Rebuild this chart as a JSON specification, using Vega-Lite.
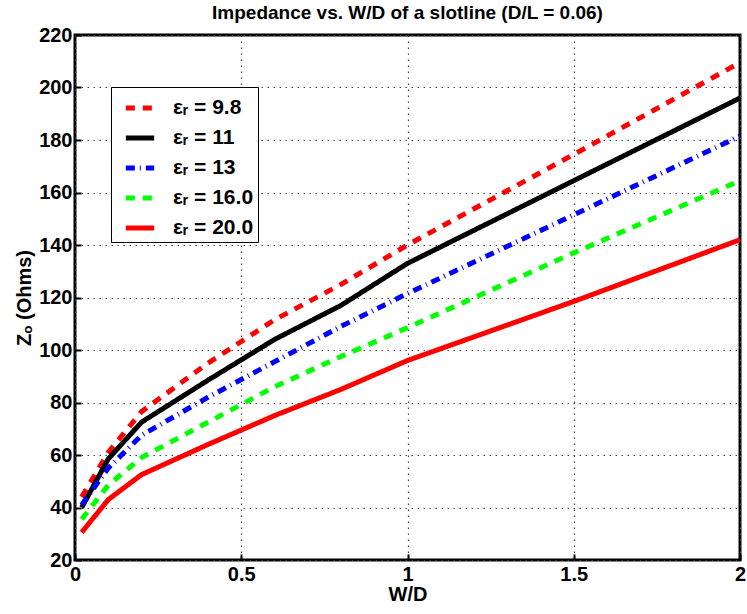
{
  "$schema": "https://vega.github.io/schema/vega-lite/v6.json",
  "width": 665,
  "height": 525,
  "autosize": {"type": "none"},
  "padding": {"left": 75, "top": 35, "right": 7, "bottom": 54},
  "background": "white",
  "title": {
    "text": "Impedance vs. W/D of a slotline (D/L = 0.06)",
    "font": "Liberation Sans",
    "fontSize": 19,
    "fontWeight": "bold",
    "color": "black",
    "anchor": "middle",
    "offset": 2
  },
  "config": {
    "view": {"stroke": "black", "strokeWidth": 3},
    "axis": {
      "labelFont": "Liberation Sans",
      "titleFont": "Liberation Sans",
      "labelFontSize": 20,
      "labelFontWeight": "bold",
      "titleFontSize": 20,
      "titleFontWeight": "bold",
      "labelColor": "black",
      "titleColor": "black",
      "labelFlush": false,
      "domain": false,
      "tickColor": "black",
      "tickWidth": 2,
      "grid": true,
      "gridColor": "#444444",
      "gridDash": [1.5, 4.5],
      "gridWidth": 1.2
    }
  },
  "data": {
    "values": [
      {"wd": 0.02, "z": 44, "s": "εᵣ = 9.8"},
      {"wd": 0.1, "z": 61, "s": "εᵣ = 9.8"},
      {"wd": 0.2, "z": 76.5, "s": "εᵣ = 9.8"},
      {"wd": 0.4, "z": 95, "s": "εᵣ = 9.8"},
      {"wd": 0.6, "z": 111.5, "s": "εᵣ = 9.8"},
      {"wd": 0.8, "z": 125, "s": "εᵣ = 9.8"},
      {"wd": 1.0, "z": 140, "s": "εᵣ = 9.8"},
      {"wd": 1.5, "z": 174.5, "s": "εᵣ = 9.8"},
      {"wd": 2.0, "z": 209.5, "s": "εᵣ = 9.8"},
      {"wd": 0.02, "z": 40, "s": "εᵣ = 11"},
      {"wd": 0.1, "z": 58.5, "s": "εᵣ = 11"},
      {"wd": 0.2, "z": 72.5, "s": "εᵣ = 11"},
      {"wd": 0.4, "z": 88.5, "s": "εᵣ = 11"},
      {"wd": 0.6, "z": 104, "s": "εᵣ = 11"},
      {"wd": 0.8, "z": 117, "s": "εᵣ = 11"},
      {"wd": 1.0, "z": 133, "s": "εᵣ = 11"},
      {"wd": 1.5, "z": 164.5, "s": "εᵣ = 11"},
      {"wd": 2.0, "z": 196, "s": "εᵣ = 11"},
      {"wd": 0.02, "z": 41, "s": "εᵣ = 13"},
      {"wd": 0.1, "z": 55, "s": "εᵣ = 13"},
      {"wd": 0.2, "z": 67.5, "s": "εᵣ = 13"},
      {"wd": 0.4, "z": 82, "s": "εᵣ = 13"},
      {"wd": 0.6, "z": 95.5, "s": "εᵣ = 13"},
      {"wd": 0.8, "z": 109, "s": "εᵣ = 13"},
      {"wd": 1.0, "z": 121.5, "s": "εᵣ = 13"},
      {"wd": 1.5, "z": 151.5, "s": "εᵣ = 13"},
      {"wd": 2.0, "z": 181.5, "s": "εᵣ = 13"},
      {"wd": 0.02, "z": 35.5, "s": "εᵣ = 16.0"},
      {"wd": 0.1, "z": 48.5, "s": "εᵣ = 16.0"},
      {"wd": 0.2, "z": 59, "s": "εᵣ = 16.0"},
      {"wd": 0.4, "z": 72.5, "s": "εᵣ = 16.0"},
      {"wd": 0.6, "z": 86, "s": "εᵣ = 16.0"},
      {"wd": 0.8, "z": 97.5, "s": "εᵣ = 16.0"},
      {"wd": 1.0, "z": 108.5, "s": "εᵣ = 16.0"},
      {"wd": 1.5, "z": 137, "s": "εᵣ = 16.0"},
      {"wd": 2.0, "z": 164.5, "s": "εᵣ = 16.0"},
      {"wd": 0.02, "z": 30.5, "s": "εᵣ = 20.0"},
      {"wd": 0.1, "z": 43, "s": "εᵣ = 20.0"},
      {"wd": 0.2, "z": 52.5, "s": "εᵣ = 20.0"},
      {"wd": 0.4, "z": 64, "s": "εᵣ = 20.0"},
      {"wd": 0.6, "z": 75, "s": "εᵣ = 20.0"},
      {"wd": 0.8, "z": 85, "s": "εᵣ = 20.0"},
      {"wd": 1.0, "z": 96, "s": "εᵣ = 20.0"},
      {"wd": 1.5, "z": 118.5, "s": "εᵣ = 20.0"},
      {"wd": 2.0, "z": 142, "s": "εᵣ = 20.0"}
    ]
  },
  "mark": {"type": "line", "strokeWidth": 5, "clip": true},
  "encoding": {
    "x": {
      "field": "wd",
      "type": "quantitative",
      "scale": {"domain": [0, 2], "nice": false},
      "axis": {
        "title": "W/D",
        "values": [0, 0.5, 1, 1.5, 2],
        "format": "~g",
        "tickSize": -6,
        "labelPadding": 10,
        "titlePadding": 0
      }
    },
    "y": {
      "field": "z",
      "type": "quantitative",
      "scale": {"domain": [20, 220], "nice": false, "zero": false},
      "axis": {
        "title": "Zₒ (Ohms)",
        "values": [20, 40, 60, 80, 100, 120, 140, 160, 180, 200, 220],
        "tickSize": -6,
        "labelPadding": 9,
        "titlePadding": 4
      }
    },
    "color": {
      "field": "s",
      "type": "nominal",
      "scale": {
        "domain": ["εᵣ = 9.8", "εᵣ = 11", "εᵣ = 13", "εᵣ = 16.0", "εᵣ = 20.0"],
        "range": ["#ff0000", "#000000", "#0000ff", "#00ff00", "#ff0000"]
      },
      "legend": {
        "title": null,
        "orient": "none",
        "legendX": 36,
        "legendY": 52,
        "direction": "vertical",
        "strokeColor": "black",
        "fillColor": "white",
        "padding": 4,
        "symbolOffset": 8,
        "symbolType": "stroke",
        "symbolSize": 800,
        "symbolStrokeWidth": 5,
        "labelFont": "Liberation Sans",
        "labelFontSize": 21,
        "labelFontWeight": "bold",
        "labelColor": "black",
        "rowPadding": 3,
        "labelOffset": 16
      }
    },
    "strokeDash": {
      "field": "s",
      "type": "nominal",
      "scale": {
        "domain": ["εᵣ = 9.8", "εᵣ = 11", "εᵣ = 13", "εᵣ = 16.0", "εᵣ = 20.0"],
        "range": [[9, 8], [1, 0], [9, 5, 1, 5], [9, 8], [1, 0]]
      },
      "legend": null
    }
  }
}
